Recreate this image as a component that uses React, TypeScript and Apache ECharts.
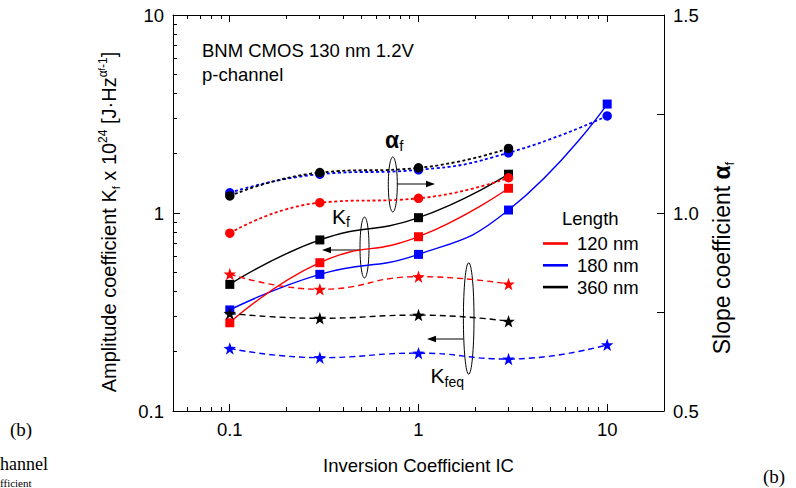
import React, { useEffect, useRef } from "react";
import * as echarts from "echarts";

// ---------- data ----------
const IC = [0.1, 0.3, 1, 3, 10];
const lengths = ["120 nm", "180 nm", "360 nm"];
const colors = ["#ff0000", "#0000ff", "#000000"];

const kf120 = [0.279, 0.561, 0.759, 1.333];
const kf180 = [0.324, 0.49, 0.618, 1.035, 3.55];
const kf360 = [0.436, 0.731, 0.947, 1.57];

const kfeq120 = [0.492, 0.412, 0.477, 0.438];
const kfeq180 = [0.207, 0.186, 0.196, 0.183, 0.216];
const kfeq360 = [0.311, 0.294, 0.305, 0.284];

const alpha120 = [0.949, 1.026, 1.037, 1.089];
const alpha180 = [1.051, 1.098, 1.109, 1.152, 1.245];
const alpha360 = [1.043, 1.102, 1.114, 1.163];

const xMajorLabels = [0.1, 1, 10];
const yMajorTicks = [0.1, 1, 10];
const xMinorTicks = [0.06, 0.07, 0.08, 0.09, 0.2, 0.3, 0.4, 0.5, 0.6, 0.7, 0.8, 0.9, 2, 3, 4, 5, 6, 7, 8, 9];
const yMinorTicks = [0.2, 0.3, 0.4, 0.5, 0.6, 0.7, 0.8, 0.9, 2, 3, 4, 5, 6, 7, 8, 9];

const X_MIN = 0.05, X_MAX = 20, Y_MIN = 0.1, Y_MAX = 10;

const SANS = "'Liberation Sans', Arial, Helvetica, sans-serif";
const SERIF = "'Liberation Serif', 'Times New Roman', serif";

function starPath(): string {
  const pts: string[] = [];
  for (let i = 0; i < 10; i++) {
    const r = i % 2 === 0 ? 1 : 0.4;
    const a = (-90 + i * 36) * Math.PI / 180;
    pts.push(`${(r * Math.cos(a)).toFixed(3)},${(r * Math.sin(a)).toFixed(3)}`);
  }
  return "path://M" + pts.join(" L") + " Z";
}
const STAR = starPath();

const pair = (vals: number[]) => vals.map((v, i) => [IC[i], v]);
const snap = (p: number) => Math.round(p - 0.5) + 0.5;

export default function App() {
  const ref = useRef<HTMLDivElement>(null);
  useEffect(() => {
    if (!ref.current) return;
    const chart = echarts.init(ref.current, null, { renderer: "svg" });

    const kfSets = [kf120, kf180, kf360];
    const kfeqSets = [kfeq120, kfeq180, kfeq360];
    const alphaSets = [alpha120, alpha180, alpha360];
    const order = [1, 0, 2];

    const series: any[] = [];
    order.forEach((i) => {
      series.push({
        name: lengths[i], type: "line", xAxisIndex: 0, yAxisIndex: 0,
        data: pair(kfSets[i]), smooth: true, symbol: "rect", symbolSize: 9,
        itemStyle: { color: colors[i] },
        lineStyle: { color: colors[i], width: 1.4, type: "solid" },
      });
    });
    order.forEach((i) => {
      series.push({
        name: lengths[i], type: "line", xAxisIndex: 0, yAxisIndex: 0,
        data: pair(kfeqSets[i]), smooth: true, symbol: STAR, symbolSize: 12.5,
        itemStyle: { color: colors[i] },
        lineStyle: { color: colors[i], width: 1.4, type: [6, 4] },
      });
    });
    order.forEach((i) => {
      series.push({
        name: lengths[i], type: "line", xAxisIndex: 0, yAxisIndex: 1,
        data: pair(alphaSets[i]), smooth: true, symbol: "circle", symbolSize: 9.5,
        itemStyle: { color: colors[i] },
        lineStyle: { color: colors[i], width: 1.8, type: [3, 2.5] },
      });
    });

    const axisLine = { show: true, lineStyle: { color: "#000", width: 1 } };
    const majorTick = { show: true, inside: true, length: 7, lineStyle: { color: "#000", width: 1 } };
    const labelStyle = { color: "#000", fontSize: 18.5, fontFamily: SANS };

    const isMajor = (v: number) => xMajorLabels.find((t) => Math.abs(v - t) / t < 1e-6);

    const annotations: any[] = [
      { type: "text", x: 202, y: 50, style: { text: "BNM CMOS 130 nm 1.2V", fill: "#000", fontSize: 18.5, fontFamily: SANS, verticalAlign: "middle" } },
      { type: "text", x: 202, y: 74.5, style: { text: "p-channel", fill: "#000", fontSize: 18.5, fontFamily: SANS, verticalAlign: "middle" } },
      {
        type: "text", x: 385, y: 127,
        style: {
          text: "{a|α}{s|f}", verticalAlign: "top", align: "left",
          rich: {
            a: { fontSize: 23, fontWeight: "bold", fontFamily: SANS, fill: "#000", lineHeight: 26 },
            s: { fontSize: 15, fontFamily: SANS, fill: "#000", lineHeight: 15, verticalAlign: "bottom" },
          },
        },
      },
      {
        type: "text", x: 332, y: 203,
        style: {
          text: "{k|K}{s|f}", verticalAlign: "top", align: "left",
          rich: {
            k: { fontSize: 21, fontFamily: SANS, fill: "#000", lineHeight: 26 },
            s: { fontSize: 14, fontFamily: SANS, fill: "#000", lineHeight: 14, verticalAlign: "bottom" },
          },
        },
      },
      {
        type: "text", x: 430.5, y: 362.5,
        style: {
          text: "{k|K}{s|feq}", verticalAlign: "top", align: "left",
          rich: {
            k: { fontSize: 21, fontFamily: SANS, fill: "#000", lineHeight: 26 },
            s: { fontSize: 14, fontFamily: SANS, fill: "#000", lineHeight: 14, verticalAlign: "bottom" },
          },
        },
      },
      { type: "ellipse", shape: { cx: 392.8, cy: 184.5, rx: 4.5, ry: 27.5 }, style: { fill: "none", stroke: "#000", lineWidth: 1 } },
      { type: "line", shape: { x1: 397, y1: 184, x2: 428, y2: 184 }, style: { stroke: "#000", lineWidth: 1 } },
      { type: "polygon", shape: { points: [[435, 184], [426, 180.8], [426, 187.2]] }, style: { fill: "#000" } },
      { type: "ellipse", shape: { cx: 364.5, cy: 247.5, rx: 4.5, ry: 30.5 }, style: { fill: "none", stroke: "#000", lineWidth: 1 } },
      { type: "line", shape: { x1: 329, y1: 250, x2: 360, y2: 250 }, style: { stroke: "#000", lineWidth: 1 } },
      { type: "polygon", shape: { points: [[322, 250], [331, 246.8], [331, 253.2]] }, style: { fill: "#000" } },
      { type: "ellipse", shape: { cx: 468.7, cy: 318.5, rx: 5.3, ry: 55.7 }, style: { fill: "none", stroke: "#000", lineWidth: 1 } },
      { type: "line", shape: { x1: 434, y1: 339, x2: 463.4, y2: 339 }, style: { stroke: "#000", lineWidth: 1 } },
      { type: "polygon", shape: { points: [[427, 339], [436, 335.8], [436, 342.2]] }, style: { fill: "#000" } },
      { type: "text", x: 562, y: 218, style: { text: "Length", fill: "#000", fontSize: 18.5, fontFamily: SANS, verticalAlign: "middle" } },
      { type: "text", x: 10, y: 429, style: { text: "(b)", fill: "#000", fontSize: 19, fontFamily: SERIF, verticalAlign: "middle" } },
      { type: "text", x: 763, y: 476, style: { text: "(b)", fill: "#000", fontSize: 19, fontFamily: SERIF, verticalAlign: "middle" } },
      { type: "text", x: 0, y: 464, style: { text: "hannel", fill: "#000", fontSize: 18, fontFamily: SERIF, verticalAlign: "middle" } },
      { type: "text", x: 0, y: 488, style: { text: "fficient", fill: "#000", fontSize: 11, fontFamily: SERIF, verticalAlign: "bottom" } },
    ];

    const option: any = {
      animation: false,
      backgroundColor: "#ffffff",
      textStyle: { fontFamily: SANS },
      grid: { left: 173, top: 15, width: 491, height: 396, containLabel: false },
      legend: {
        data: lengths,
        orient: "vertical",
        left: 538,
        top: 229,
        itemWidth: 25,
        itemHeight: 2.6,
        itemGap: 2.8,
        icon: "rect",
        selectedMode: false,
        textStyle: { color: "#000", fontSize: 18.5, fontFamily: SANS, padding: [0, 0, 0, 4] },
      },
      xAxis: [
        {
          type: "log", min: X_MIN, max: X_MAX, splitNumber: 2, position: "bottom",
          axisLine, axisTick: { show: false }, splitLine: { show: false }, minorTick: { show: false },
          axisLabel: {
            ...labelStyle, margin: 9,
            formatter: (v: number) => { const t = isMajor(v); return t === undefined ? "" : String(t); },
          },
          name: "Inversion Coefficient IC", nameLocation: "middle", nameGap: 45,
          nameTextStyle: { color: "#000", fontSize: 18.5, fontFamily: SANS },
        },
        {
          type: "log", min: X_MIN, max: X_MAX, splitNumber: 2, position: "top",
          axisLine, axisTick: { show: false }, splitLine: { show: false }, axisLabel: { show: false },
        },
      ],
      yAxis: [
        {
          type: "log", min: Y_MIN, max: Y_MAX, splitNumber: 2, position: "left",
          axisLine, axisTick: { show: false }, splitLine: { show: false }, minorTick: { show: false },
          axisLabel: { ...labelStyle, margin: 9, formatter: (v: number) => String(+v.toPrecision(3)) },
          name: "{t|Amplitude coefficient K}{sub|f}{t| x 10}{sup|24}{t| [J·Hz}{sup|α}{ss|f}{sup|-1}{t|]}",
          nameLocation: "middle", nameRotate: 90, nameGap: 52,
          nameTextStyle: {
            color: "#000", fontSize: 20, fontFamily: SANS, padding: [0, 18, 0, 0],
            rich: {
              t: { fontSize: 20, fontFamily: SANS, color: "#000", lineHeight: 24 },
              sub: { fontSize: 11, fontFamily: SANS, color: "#000", lineHeight: 11, verticalAlign: "bottom" },
              sup: { fontSize: 12, fontFamily: SANS, color: "#000", lineHeight: 12, verticalAlign: "top" },
              ss: { fontSize: 9, fontFamily: SANS, color: "#000", lineHeight: 16, verticalAlign: "top" },
            },
          },
        },
        {
          type: "value", min: 0.5, max: 1.5, interval: 0.25, position: "right",
          axisLine, axisTick: majorTick, splitLine: { show: false },
          axisLabel: {
            ...labelStyle, margin: 9,
            formatter: (v: number) => (Math.abs(v * 2 - Math.round(v * 2)) < 1e-6 ? v.toFixed(1) : ""),
          },
          name: "{t|Slope coefficient }{b|α}{sub|f}",
          nameLocation: "middle", nameRotate: 90, nameGap: 44,
          nameTextStyle: {
            color: "#000", fontSize: 23, fontFamily: SANS, padding: [0, 90, 0, 0],
            rich: {
              t: { fontSize: 23, fontFamily: SANS, color: "#000", lineHeight: 28 },
              b: { fontSize: 23, fontFamily: SANS, fontWeight: "bold", color: "#000", lineHeight: 28 },
              sub: { fontSize: 13, fontFamily: SANS, color: "#000", lineHeight: 13, verticalAlign: "bottom" },
            },
          },
        },
      ],
      graphic: annotations,
      series,
    };
    chart.setOption(option);

    // ticks of the log axes (decades and 2..9 subdivisions), positioned through the chart's own axis scales
    const finder = { xAxisIndex: 0, yAxisIndex: 0 };
    const toPx = (x: number, y: number): number[] => chart.convertToPixel(finder as any, [x, y]) as any;
    const tickStyle = { stroke: "#000", lineWidth: 1 };
    const ticks: any[] = [];
    const xTick = (v: number, len: number) => {
      const b = toPx(v, Y_MIN);
      const t = toPx(v, Y_MAX);
      if (!b || !t || !isFinite(b[0])) return;
      const x = snap(b[0]);
      ticks.push({ type: "line", silent: true, z: 50, shape: { x1: x, y1: Math.round(b[1]), x2: x, y2: Math.round(b[1]) - len }, style: tickStyle });
      ticks.push({ type: "line", silent: true, z: 50, shape: { x1: x, y1: Math.round(t[1]), x2: x, y2: Math.round(t[1]) + len }, style: tickStyle });
    };
    const yTick = (v: number, len: number) => {
      const l = toPx(X_MIN, v);
      if (!l || !isFinite(l[1])) return;
      const y = snap(l[1]);
      ticks.push({ type: "line", silent: true, z: 50, shape: { x1: Math.round(l[0]), y1: y, x2: Math.round(l[0]) + len, y2: y }, style: tickStyle });
    };
    xMajorLabels.forEach((v) => xTick(v, 7));
    xMinorTicks.forEach((v) => xTick(v, 4));
    yMajorTicks.forEach((v) => yTick(v, 7));
    yMinorTicks.forEach((v) => yTick(v, 4));
    chart.setOption({ graphic: [...annotations, ...ticks] });

    return () => chart.dispose();
  }, []);

  return (
    <div
      ref={ref}
      style={{ position: "absolute", left: 0, top: 0, width: 796, height: 488, background: "#fff" }}
    />
  );
}
